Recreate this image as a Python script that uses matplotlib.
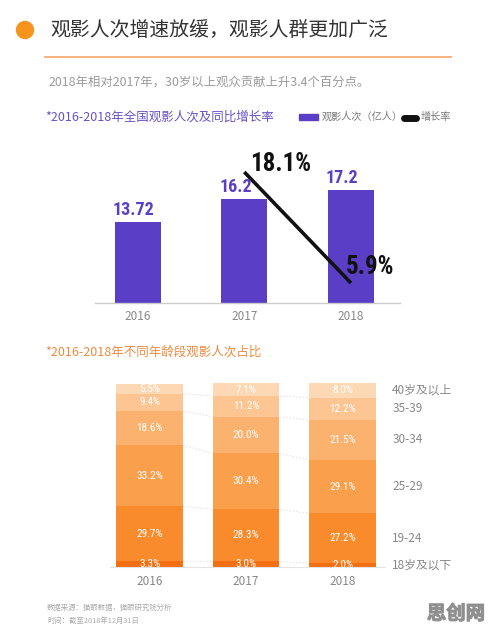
import matplotlib
matplotlib.use("Agg")
import matplotlib.pyplot as plt
from matplotlib.lines import Line2D
from matplotlib.patches import Rectangle, Ellipse
from matplotlib import font_manager
import matplotlib.patheffects as pe

plt.rcParams['font.family'] = ['Noto Sans CJK SC', 'DejaVu Sans']

# ---- data ----
years = ['2016', '2017', '2018']
admissions = [13.72, 16.2, 17.2]          # 观影人次（亿人）
admission_labels = ['13.72', '16.2', '17.2']
growth_years_idx = [1, 2]
growth = [18.1, 5.9]                      # 增长率 %
growth_labels = ['18.1%', '5.9%']

age_groups = ['18岁及以下', '19-24', '25-29', '30-34', '35-39', '40岁及以上']
age_share = {
    '2016': [3.3, 29.7, 33.2, 18.6, 9.4, 5.5],
    '2017': [3.0, 28.3, 30.4, 20.0, 11.2, 7.1],
    '2018': [2.0, 27.2, 29.1, 21.5, 12.2, 8.0],
}
age_colors = ['#F36F12', '#F98B2C', '#FA9F4C', '#FBB26F', '#FCC592', '#FDD8B5']

# pick a condensed face for the numbers if one is installed
_names = {f.name for f in font_manager.fontManager.ttflist}
_cond = None
for cand in ['Roboto Condensed', 'Liberation Sans Narrow', 'DejaVu Sans Condensed',
             'Open Sans Condensed', 'Noto Sans Condensed', 'Arial Narrow']:
    if cand in _names:
        _cond = cand
        break
_cond_stretch = [f.stretch for f in font_manager.fontManager.ttflist
                 if f.name in ('DejaVu Sans', 'Noto Sans', 'Open Sans', 'Roboto')
                 and str(f.stretch) in ('condensed', 'semi-condensed', '75', '87.5')]
if _cond:
    NUM = [_cond, 'DejaVu Sans']
    NUMSTRETCH = 'normal'
    SC = 1.0
elif _cond_stretch:
    NUM = ['DejaVu Sans', 'Noto Sans', 'Open Sans', 'Roboto']
    NUMSTRETCH = 'condensed'
    SC = 1.0
else:
    NUM = ['DejaVu Sans']
    NUMSTRETCH = 'normal'
    SC = 0.8

W, H = 496, 634
fig = plt.figure(figsize=(W / 100, H / 100), dpi=100)
fig.patch.set_facecolor('white')

def fx(px):
    return px / W

def fy(py):
    return 1 - py / H

# ---- header ----
fig.patches.append(Ellipse((fx(25), fy(30)), 17 / W, 17 / H, transform=fig.transFigure,
                           color='#F7941D'))
fig.text(fx(50), fy(31), '观影人次增速放缓，观影人群更加广泛', fontsize=14.3,
         color='#333333', va='center', ha='left')
fig.lines.append(Line2D([fx(45), fx(451)], [fy(57), fy(57)], transform=fig.transFigure,
                        color='#F4A66A', lw=1.2))
fig.text(fx(49), fy(82), '2018年相对2017年，30岁以上观众贡献上升3.4个百分点。', fontsize=8.9,
         color='#9a9a9a', va='center', ha='left')

# ---- subheading 1 + legend ----
fig.text(fx(45), fy(117), '*2016-2018年全国观影人次及同比增长率', fontsize=9,
         color='#6A4FC9', va='center', ha='left')
fig.patches.append(Rectangle((fx(299), fy(120)), 19 / W, 6 / H, transform=fig.transFigure,
                             color='#5A3EC6'))
fig.text(fx(322), fy(117), '观影人次（亿人）', fontsize=7.3, color='#777777',
         va='center', ha='left')
fig.lines.append(Line2D([fx(404), fx(416)], [fy(117.5), fy(117.5)], transform=fig.transFigure,
                        color='#111111', lw=5, solid_capstyle='round'))
fig.text(fx(421), fy(117), '增长率', fontsize=7.3, color='#777777', va='center', ha='left')

# ---- chart 1 ----
ax1 = fig.add_axes([fx(95), fy(303), fx(400) - fx(95), fy(150) - fy(303)])
x1 = list(range(len(years)))
bw1 = 0.43
ax1.bar(x1, admissions, width=bw1, color='#5A3EC6', zorder=2)
ax1.set_xlim(-0.40, 2.46)
ax1.set_ylim(4.92, 21.55)
for i, (v, lab) in enumerate(zip(admissions, admission_labels)):
    ax1.annotate(lab, (i - bw1 / 2, v), xytext=(-1.5, 2.5), textcoords='offset points',
                 ha='left', va='bottom', fontsize=13 * SC, fontweight='bold',
                 color='#5A3EC6', family=NUM, fontstretch=NUMSTRETCH)
ax1.set_xticks(x1)
ax1.set_xticklabels(years, fontsize=8.5, color='#888888')
ax1.tick_params(axis='x', length=0, pad=5)
ax1.set_yticks([])
for s in ['top', 'right', 'left']:
    ax1.spines[s].set_visible(False)
ax1.spines['bottom'].set_color('#cccccc')
ax1.spines['bottom'].set_linewidth(1)
ax1.patch.set_alpha(0)

ax1b = ax1.twinx()
ax1b.set_ylim(3.70, 20.52)
ax1b.plot(growth_years_idx, growth, color='#111111', lw=2.6, solid_capstyle='butt', zorder=3)
ax1b.annotate(growth_labels[0], (growth_years_idx[0], growth[0]), xytext=(26, 5.5),
              textcoords='offset points', ha='center', va='center', fontsize=18 * SC,
              fontweight='bold', color='#111111', family=NUM, fontstretch=NUMSTRETCH)
ax1b.annotate(growth_labels[1], (growth_years_idx[1], growth[1]), xytext=(14, 11.5),
              textcoords='offset points', ha='center', va='center', fontsize=18 * SC,
              fontweight='bold', color='#111111', family=NUM, fontstretch=NUMSTRETCH)
ax1b.set_yticks([])
for s in ax1b.spines.values():
    s.set_visible(False)

# ---- subheading 2 ----
fig.text(fx(45), fy(352), '*2016-2018年不同年龄段观影人次占比', fontsize=9,
         color='#EE8A3E', va='center', ha='left')

# ---- chart 2 ----
ax2 = fig.add_axes([fx(110), fy(567), fx(385) - fx(110), fy(383) - fy(567)])
x2 = list(range(len(years)))
bw = 0.69
bounds = {}
for i, y in enumerate(years):
    bottom = 0
    bl = [0]
    for j, v in enumerate(age_share[y]):
        ax2.bar(i, v, width=bw, bottom=bottom, color=age_colors[j], zorder=2)
        ax2.text(i, bottom + v / 2, f'{v:.1f}%', ha='center', va='center',
                 fontsize=8 * (1 if SC == 1 else 0.9), color='white', family=NUM,
                 fontstretch=NUMSTRETCH, zorder=4)
        bottom += v
        bl.append(bottom)
    bounds[y] = bl
# dashed connectors across gaps
for i in range(len(years) - 1):
    a, b = bounds[years[i]], bounds[years[i + 1]]
    for k in range(1, len(a) - 1):
        ax2.plot([i + bw / 2, i + 1 - bw / 2], [a[k], b[k]], ls=(0, (2, 2)),
                 color='#dddddd', lw=0.6, zorder=1)
# right side labels at 2018 segment centres
last = age_share[years[-1]]
cum = 0
for name, v in zip(age_groups, last):
    ax2.text(2.515, cum + v / 2, name, ha='left', va='center', fontsize=8.5,
             color='#888888', clip_on=False)
    cum += v
ax2.set_xlim(-0.41, 2.44)
ax2.set_ylim(0, 100)
ax2.set_xticks(x2)
ax2.set_xticklabels(years, fontsize=8.5, color='#888888')
ax2.tick_params(axis='x', length=0, pad=6)
ax2.set_yticks([])
for s in ['top', 'right', 'left']:
    ax2.spines[s].set_visible(False)
ax2.spines['bottom'].set_color('#e3e3e3')
ax2.spines['bottom'].set_linewidth(0.8)
ax2.patch.set_alpha(0)

# ---- footer ----
fig.text(fx(47), fy(608), '数据来源：猫眼数据，猫眼研究院分析', fontsize=5.3,
         color='#aaaaaa', va='center', ha='left')
fig.text(fx(47), fy(621), '时间：截至2018年12月31日', fontsize=5.3,
         color='#aaaaaa', va='center', ha='left')
fig.text(fx(456), fy(614), '思创网', fontsize=14, fontweight='bold', color='#8f8f8f',
         va='center', ha='center',
         path_effects=[pe.withStroke(linewidth=0.7, foreground='#8f8f8f')])

fig.savefig('out.png', dpi=100, facecolor='white')
